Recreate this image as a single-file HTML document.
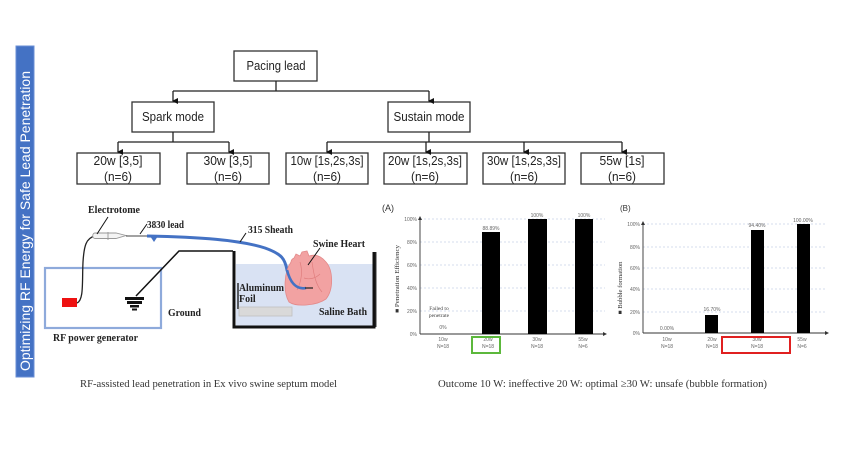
<!DOCTYPE html>
<html>
<head>
<meta charset="utf-8">
<style>
html,body{margin:0;padding:0;background:#fff;}
svg{display:block;}
.t{font-family:"Liberation Sans",sans-serif;fill:#222;}
.s{font-family:"Liberation Serif",serif;}
.b{font-family:"Liberation Serif",serif;font-weight:bold;fill:#222;}
.tk{font-family:"Liberation Sans",sans-serif;font-size:5px;fill:#666;}
.cap{font-family:"Liberation Serif",serif;font-size:11px;fill:#333;}
</style>
</head>
<body>
<svg width="845" height="459" viewBox="0 0 845 459" xmlns="http://www.w3.org/2000/svg">
<defs>
<marker id="ar" markerWidth="6" markerHeight="6" refX="3" refY="5" orient="auto" markerUnits="userSpaceOnUse">
<path d="M0,0 L6,0 L3,6 Z" fill="#111"/>
</marker>
</defs>
<rect width="845" height="459" fill="#fff"/>

<!-- Sidebar -->
<rect x="16" y="46" width="18" height="331" fill="#4472c4" stroke="#6a8fd6" stroke-width="1"/>
<text x="0" y="0" transform="translate(30,221) rotate(-90)" text-anchor="middle" font-family="Liberation Sans, sans-serif" font-size="14" fill="#fff" textLength="300" lengthAdjust="spacingAndGlyphs">Optimizing RF Energy for Safe Lead Penetration</text>

<!-- Tree -->
<g fill="#fff" stroke="#333" stroke-width="1.3">
<rect x="234" y="51" width="83" height="30"/>
<rect x="132" y="102" width="82" height="30"/>
<rect x="388" y="102" width="82" height="30"/>
<rect x="77" y="153" width="83" height="31"/>
<rect x="187" y="153" width="82" height="31"/>
<rect x="286" y="153" width="82" height="31"/>
<rect x="384" y="153" width="83" height="31"/>
<rect x="483" y="153" width="82" height="31"/>
<rect x="581" y="153" width="83" height="31"/>
</g>
<g stroke="#222" stroke-width="1.3" fill="none">
<path d="M276 81 V91 M173 91 H429"/>
<path d="M173 91 V101" marker-end="url(#ar)"/>
<path d="M429 91 V101" marker-end="url(#ar)"/>
<path d="M173 132 V142 M118 142 H229"/>
<path d="M118 142 V152" marker-end="url(#ar)"/>
<path d="M229 142 V152" marker-end="url(#ar)"/>
<path d="M429 132 V142 M327 142 H622"/>
<path d="M327 142 V152" marker-end="url(#ar)"/>
<path d="M426 142 V152" marker-end="url(#ar)"/>
<path d="M524 142 V152" marker-end="url(#ar)"/>
<path d="M622 142 V152" marker-end="url(#ar)"/>
</g>
<g class="t" font-size="12.5" text-anchor="middle">
<text x="276" y="70" textLength="59" lengthAdjust="spacingAndGlyphs">Pacing lead</text>
<text x="173" y="121" textLength="62" lengthAdjust="spacingAndGlyphs">Spark mode</text>
<text x="429" y="121" textLength="71" lengthAdjust="spacingAndGlyphs">Sustain mode</text>
<text x="118" y="165" textLength="49" lengthAdjust="spacingAndGlyphs">20w [3,5]</text>
<text x="118" y="181" textLength="28" lengthAdjust="spacingAndGlyphs">(n=6)</text>
<text x="228" y="165" textLength="49" lengthAdjust="spacingAndGlyphs">30w [3,5]</text>
<text x="228" y="181" textLength="28" lengthAdjust="spacingAndGlyphs">(n=6)</text>
<text x="327" y="165" textLength="73" lengthAdjust="spacingAndGlyphs">10w [1s,2s,3s]</text>
<text x="327" y="181" textLength="28" lengthAdjust="spacingAndGlyphs">(n=6)</text>
<text x="425" y="165" textLength="74" lengthAdjust="spacingAndGlyphs">20w [1s,2s,3s]</text>
<text x="425" y="181" textLength="28" lengthAdjust="spacingAndGlyphs">(n=6)</text>
<text x="524" y="165" textLength="74" lengthAdjust="spacingAndGlyphs">30w [1s,2s,3s]</text>
<text x="524" y="181" textLength="28" lengthAdjust="spacingAndGlyphs">(n=6)</text>
<text x="622" y="165" textLength="45" lengthAdjust="spacingAndGlyphs">55w [1s]</text>
<text x="622" y="181" textLength="28" lengthAdjust="spacingAndGlyphs">(n=6)</text>
</g>

<!-- Setup diagram -->
<!-- bath water -->
<rect x="236" y="264" width="137" height="62" fill="#d9e2f3"/>
<!-- bath walls -->
<path d="M234 251 V327 H374 V252" fill="none" stroke="#111" stroke-width="3"/>
<!-- RF generator box -->
<rect x="45" y="268" width="116" height="60" fill="none" stroke="#8eaadb" stroke-width="2.2"/>
<!-- red rect -->
<rect x="62" y="298" width="15" height="9" fill="#ee1111"/>
<!-- wire -->
<path d="M77 303 C84 300,82 282,83 262 C84 246,86 238,95 236" fill="none" stroke="#222" stroke-width="1.3"/>
<!-- ground symbol -->
<g fill="#111">
<rect x="125" y="297" width="19" height="3"/>
<rect x="127" y="301" width="15" height="3"/>
<rect x="130" y="305" width="9" height="2.5"/>
<rect x="132" y="308.5" width="5" height="2"/>
</g>
<path d="M136 296 L179 251 H233" fill="none" stroke="#111" stroke-width="1.5"/>
<!-- electrotome pen -->
<path d="M95 233 H116 L126 235.5 L116 238.5 H95 C92 238.5,92 233,95 233 Z" fill="#f4f4f4" stroke="#999" stroke-width="0.9"/>
<path d="M108 232 V240" stroke="#999" stroke-width="0.9"/>
<path d="M126 236 H148" stroke="#444" stroke-width="1"/>
<!-- sheath -->
<path d="M147 236 C200 237,240 240,265 248 C282 254,285 259,287 270 C290 282,296 290,306 288" fill="none" stroke="#4472c4" stroke-width="3"/>
<path d="M150 236 L158 236 L154 242 Z" fill="#4472c4"/>
<!-- heart -->
<g>
<path d="M291 262 C284 272,283 292,289 302 C296 307,316 306,326 299 C334 289,333 270,326 262 C321 256,315 254,309 256 L307 251 L302 252 L300 256 L296 254 L294 258 C292 259,291 260,291 262 Z" fill="#f2a2a2" stroke="#e38a8a" stroke-width="0.8"/>
<path d="M300 262 C303 272,301 282,297 290 M312 262 C314 276,316 285,322 292 M304 278 C310 280,316 278,320 274" fill="none" stroke="#e07e7e" stroke-width="0.7"/>
</g>
<path d="M287 270 C290 282,296 290,306 288" fill="none" stroke="#4472c4" stroke-width="2.6"/>
<path d="M305 288 H313" stroke="#222" stroke-width="1.2"/>
<!-- aluminum foil -->
<path d="M238 283 V309" stroke="#111" stroke-width="1.3"/>
<rect x="239" y="307" width="53" height="9" fill="#d9d9d9" stroke="#c0c0c0" stroke-width="0.8"/>
<!-- label leader lines -->
<g stroke="#111" stroke-width="1" fill="none">
<path d="M108 217 L97 234"/>
<path d="M147 224 L140 234"/>
<path d="M246 233 L240 242"/>
<path d="M320 248 L308 265"/>
</g>
<g class="b" font-size="10">
<text x="88" y="213" textLength="52" lengthAdjust="spacingAndGlyphs">Electrotome</text>
<text x="147" y="228" textLength="37" lengthAdjust="spacingAndGlyphs">3830 lead</text>
<text x="248" y="233" textLength="45" lengthAdjust="spacingAndGlyphs">315 Sheath</text>
<text x="313" y="247" textLength="52" lengthAdjust="spacingAndGlyphs">Swine Heart</text>
<text x="239" y="291" textLength="45" lengthAdjust="spacingAndGlyphs">Aluminum</text>
<text x="239" y="302">Foil</text>
<text x="319" y="315" textLength="48" lengthAdjust="spacingAndGlyphs">Saline Bath</text>
<text x="168" y="316" textLength="33" lengthAdjust="spacingAndGlyphs">Ground</text>
<text x="53" y="341" textLength="85" lengthAdjust="spacingAndGlyphs">RF power generator</text>
</g>
<text class="cap" x="80" y="387" textLength="257" lengthAdjust="spacingAndGlyphs">RF-assisted lead penetration in Ex vivo swine septum model</text>

<!-- Chart A -->
<path d="M376 252 V327" stroke="#333" stroke-width="1"/>
<text x="382" y="211" font-family="Liberation Sans, sans-serif" font-size="9" fill="#333">(A)</text>
<g stroke="#c9d1e6" stroke-width="0.8" stroke-dasharray="2,2">
<path d="M420 219 H605 M420 242 H605 M420 265 H605 M420 288 H605 M420 311 H605"/>
</g>
<path d="M420 334 V218 M420 334 H603" stroke="#333" stroke-width="0.9" fill="none"/>
<path d="M603 332 L607 334 L603 336 Z M418 220 L420 216 L422 220 Z" fill="#333"/>
<g class="tk" text-anchor="end">
<text x="417" y="221">100%</text><text x="417" y="244">80%</text><text x="417" y="267">60%</text><text x="417" y="290">40%</text><text x="417" y="313">20%</text><text x="417" y="336">0%</text>
</g>
<rect x="482" y="232" width="18" height="102" fill="#000"/>
<rect x="528" y="219" width="19" height="115" fill="#000"/>
<rect x="575" y="219" width="18" height="115" fill="#000"/>
<g class="tk" text-anchor="middle">
<text x="491" y="230">88.89%</text>
<text x="537" y="217">100%</text>
<text x="584" y="217">100%</text>
<text x="443" y="329">0%</text>
<text x="443" y="341">10w</text><text x="443" y="348">N=18</text>
<text x="488" y="341">20w</text><text x="488" y="348">N=18</text>
<text x="537" y="341">30w</text><text x="537" y="348">N=18</text>
<text x="583" y="341">55w</text><text x="583" y="348">N=6</text>
</g>
<g font-family="Liberation Serif, serif" font-size="5.5" fill="#444" text-anchor="middle">
<text x="439" y="310">Failed to</text>
<text x="439" y="317">penetrate</text>
</g>
<text x="0" y="0" transform="translate(399,279) rotate(-90)" text-anchor="middle" font-family="Liberation Serif, serif" font-size="6" fill="#333" textLength="68" lengthAdjust="spacingAndGlyphs">■ Penetration Efficiency</text>
<rect x="472" y="337" width="28" height="16" fill="none" stroke="#5cb83c" stroke-width="2"/>

<!-- Chart B -->
<text x="620" y="211" font-family="Liberation Sans, sans-serif" font-size="8" fill="#333">(B)</text>
<g stroke="#c9d1e6" stroke-width="0.8" stroke-dasharray="2,2">
<path d="M643 224 H826 M643 247 H826 M643 268 H826 M643 289 H826 M643 312 H826"/>
</g>
<path d="M643 333 V223 M643 333 H825" stroke="#333" stroke-width="0.9" fill="none"/>
<path d="M825 331 L829 333 L825 335 Z M641 225 L643 221 L645 225 Z" fill="#333"/>
<g class="tk" text-anchor="end">
<text x="640" y="226">100%</text><text x="640" y="249">80%</text><text x="640" y="270">60%</text><text x="640" y="291">40%</text><text x="640" y="314">20%</text><text x="640" y="335">0%</text>
</g>
<rect x="705" y="315" width="13" height="18" fill="#000"/>
<rect x="751" y="230" width="13" height="103" fill="#000"/>
<rect x="797" y="224" width="13" height="109" fill="#000"/>
<g class="tk" text-anchor="middle">
<text x="667" y="330">0.00%</text>
<text x="712" y="311">16.70%</text>
<text x="757" y="227">94.40%</text>
<text x="803" y="222">100.00%</text>
<text x="667" y="341">10w</text><text x="667" y="348">N=18</text>
<text x="712" y="341">20w</text><text x="712" y="348">N=18</text>
<text x="757" y="341">30w</text><text x="757" y="348">N=18</text>
<text x="802" y="341">55w</text><text x="802" y="348">N=6</text>
</g>
<text x="0" y="0" transform="translate(622,288) rotate(-90)" text-anchor="middle" font-family="Liberation Serif, serif" font-size="6" fill="#333" textLength="53" lengthAdjust="spacingAndGlyphs">■ Bubble formation</text>
<rect x="722" y="337" width="68" height="16" fill="none" stroke="#e02020" stroke-width="2"/>

<text class="cap" x="438" y="387" textLength="329" lengthAdjust="spacingAndGlyphs">Outcome 10 W: ineffective 20 W: optimal ≥30 W: unsafe (bubble formation)</text>
</svg>
</body>
</html>
